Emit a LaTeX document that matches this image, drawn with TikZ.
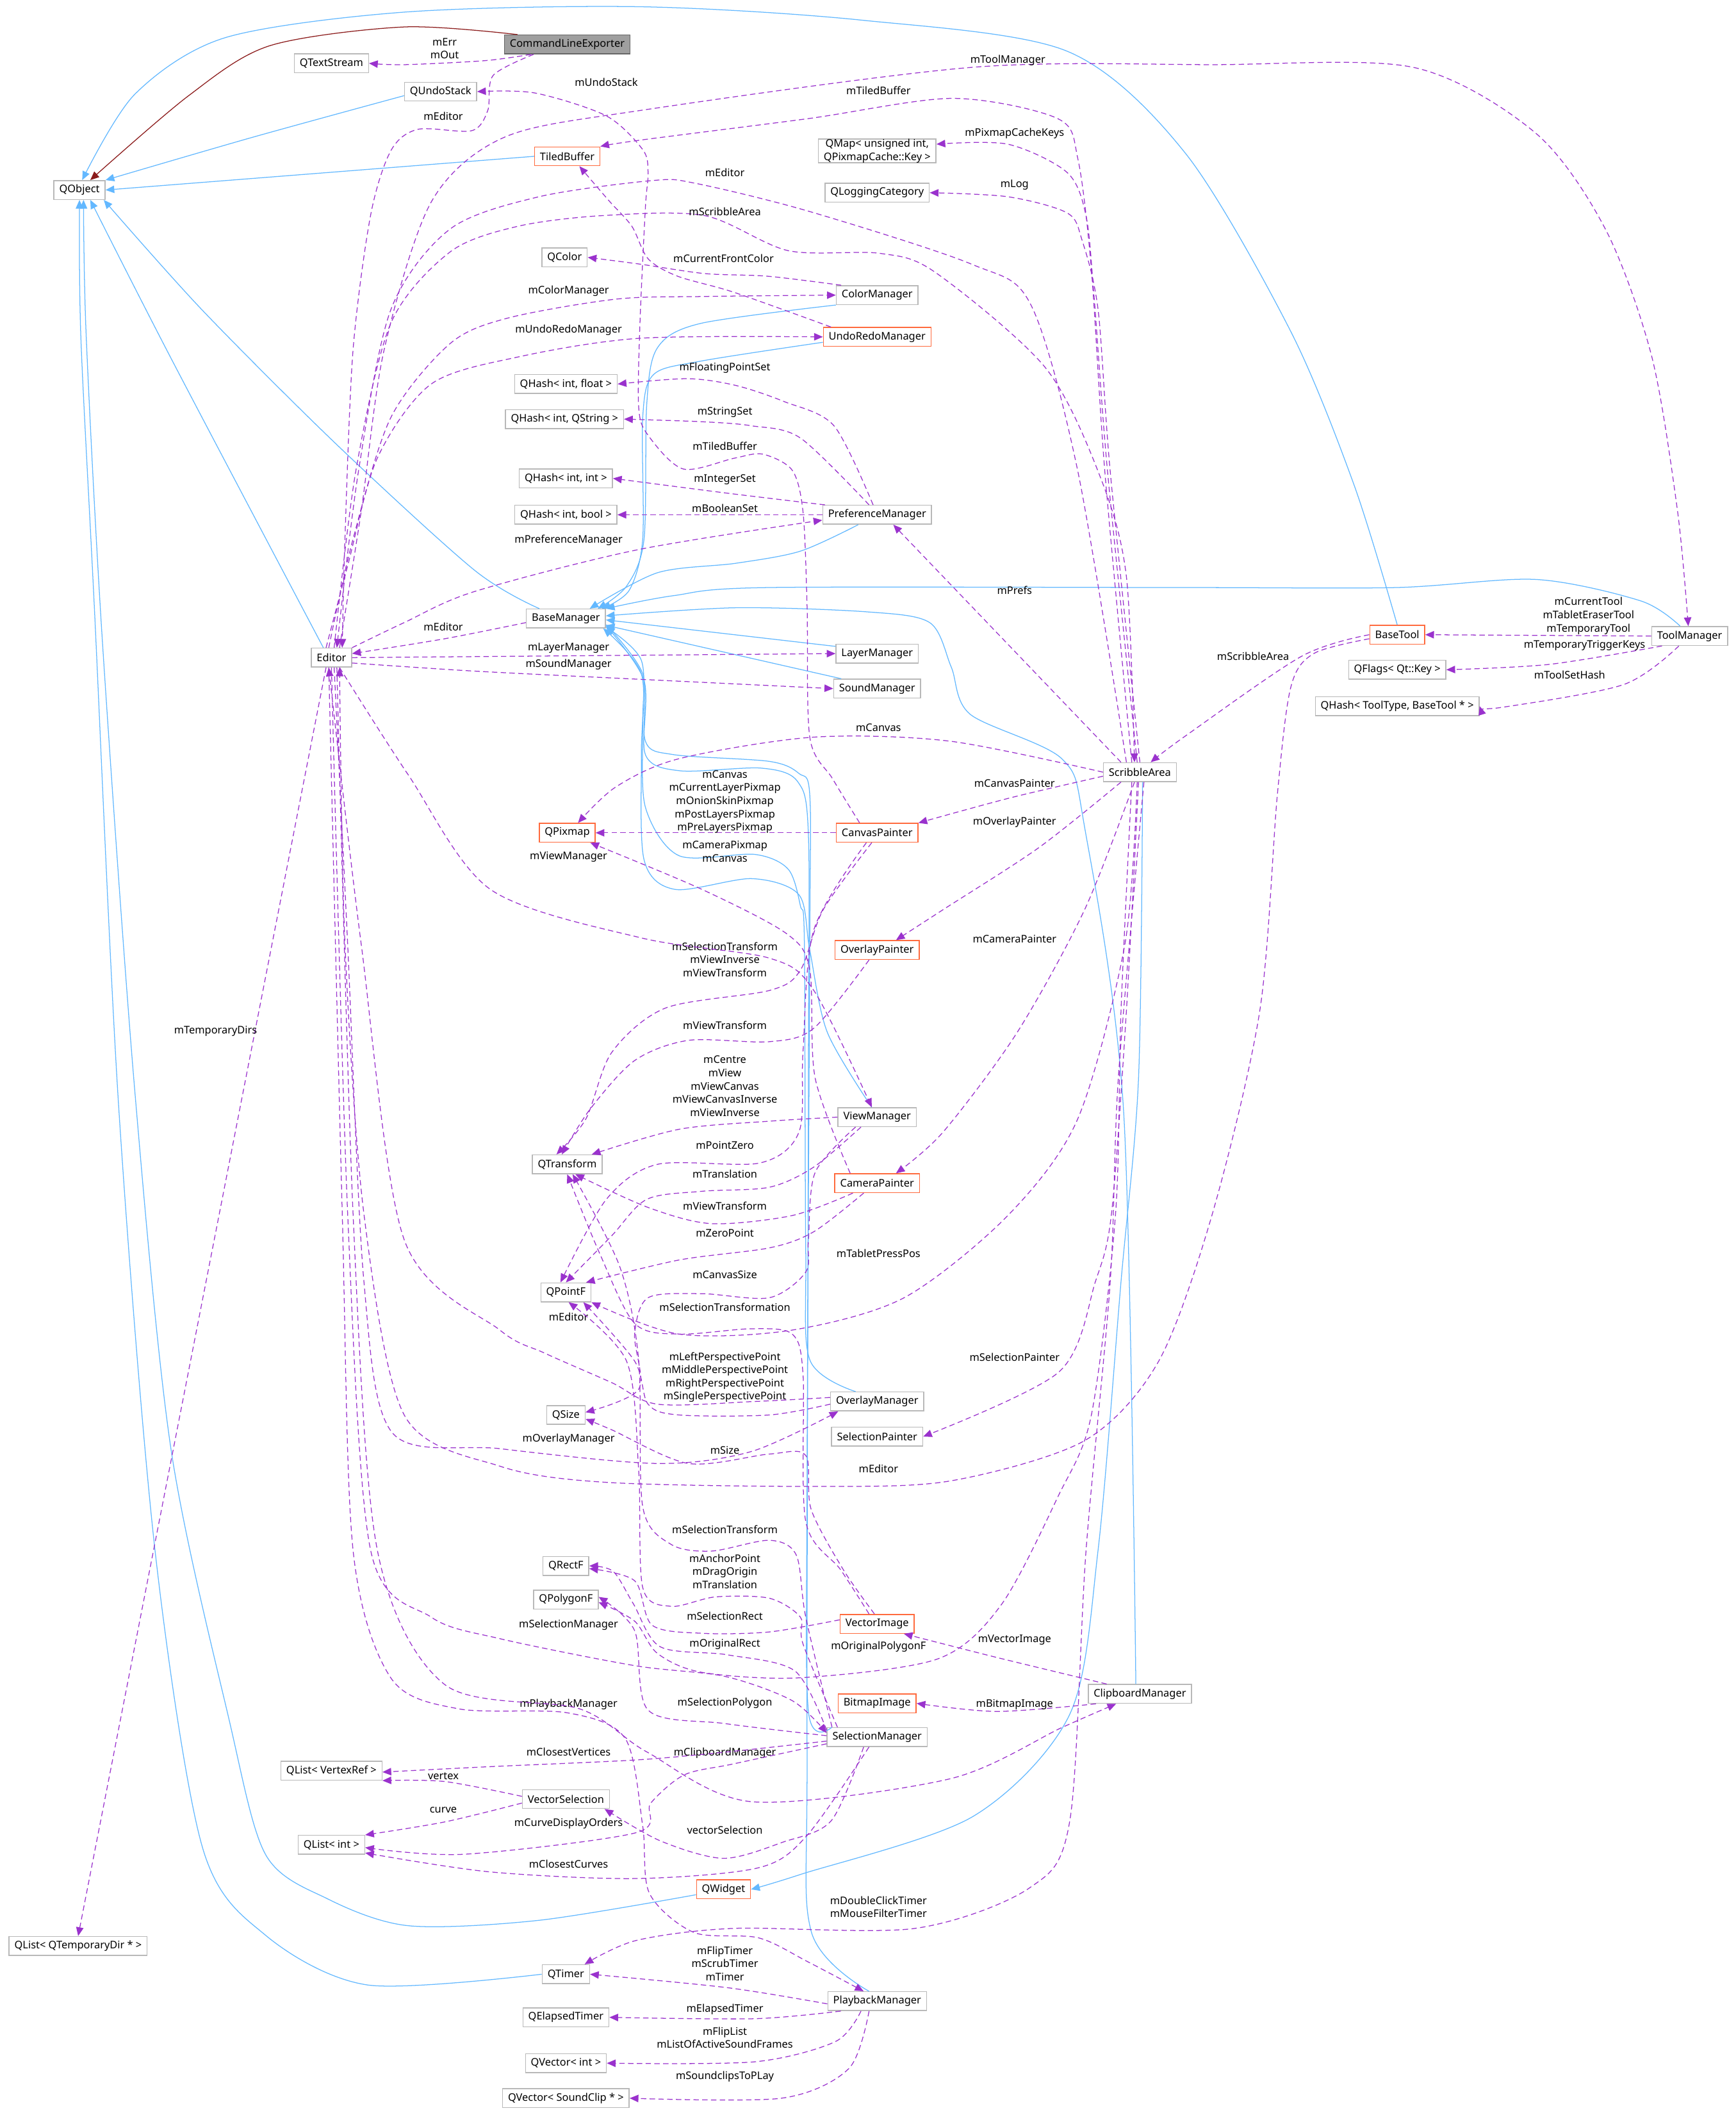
\documentclass[tikz,border=0pt]{standalone}
\usepackage{fontspec}
\setmainfont{Noto Sans}
\usetikzlibrary{arrows.meta}
\definecolor{inhblue}{HTML}{63B8FF}
\definecolor{usepurple}{HTML}{9A32CD}
\definecolor{privred}{HTML}{8B1A1A}
\definecolor{boxgray}{HTML}{B8B8B8}
\definecolor{boxorange}{HTML}{FF6A3D}
\tikzstyle{cls} = [rectangle,draw=boxgray,fill=white,line width=0.7pt,inner xsep=4pt,inner ysep=0pt,minimum height=14pt,align=center]
\tikzstyle{trunc} = [cls,draw=boxorange]
\tikzstyle{current} = [cls,fill=gray!75,draw=gray!120]
\tikzstyle{inh} = [draw=inhblue,line width=0.6pt,-{Triangle[length=6.5pt,width=5.5pt]}]
\tikzstyle{priv} = [draw=privred,line width=0.6pt,-{Triangle[length=6.5pt,width=5.5pt]}]
\tikzstyle{use} = [draw=usepurple,line width=0.6pt,dash pattern=on 4pt off 2.5pt,-{Triangle[length=6.5pt,width=5.5pt]}]
\tikzstyle{lbl} = [align=center,inner sep=0pt]
\tikzstyle{every node}=[font=\fontsize{7.8}{9.8}\selectfont]

\begin{document}
\begin{tikzpicture}[x=1pt,y=-1pt]
    \useasboundingbox (0,0) rectangle (1288,1568);
	\node[current] (CLE) at (421,33) {CommandLineExporter};
	\node[cls] (QTextStream) at (246,47) {QTextStream};
	\node[cls] (QUndoStack) at (327,68) {QUndoStack};
	\node[cls] (QObject) at (59,141) {QObject};
	\node[trunc] (TiledBuffer) at (421,116) {TiledBuffer};
	\node[cls] (QMap) at (651,112) {QMap< unsigned int,\\ QPixmapCache::Key >};
	\node[cls] (QLoggingCategory) at (651,143) {QLoggingCategory};
	\node[cls] (QColor) at (419,191) {QColor};
	\node[cls] (ColorManager) at (651,219) {ColorManager};
	\node[trunc] (UndoRedoManager) at (651,250) {UndoRedoManager};
	\node[cls] (QHashFloat) at (420,285) {QHash< int, float >};
	\node[cls] (QHashQString) at (419,311) {QHash< int, QString >};
	\node[cls] (QHashInt) at (420,355) {QHash< int, int >};
	\node[cls] (QHashBool) at (420,382) {QHash< int, bool >};
	\node[cls] (PreferenceManager) at (651,382) {PreferenceManager};
	\node[cls] (BaseManager) at (420,459) {BaseManager};
	\node[cls] (Editor) at (246,488) {Editor};
	\node[cls] (LayerManager) at (651,485) {LayerManager};
	\node[cls] (SoundManager) at (651,511) {SoundManager};
	\node[trunc] (BaseTool) at (1037,471) {BaseTool};
	\node[cls] (ToolManager) at (1254,472) {ToolManager};
	\node[cls] (QFlags) at (1037,497) {QFlags< Qt::Key >};
	\node[cls] (QHashTool) at (1037,524) {QHash< ToolType, BaseTool * >};
	\node[cls] (ScribbleArea) at (846,573) {ScribbleArea};
	\node[trunc] (QPixmap) at (421,618) {QPixmap};
	\node[trunc] (CanvasPainter) at (651,618) {CanvasPainter};
	\node[trunc] (OverlayPainter) at (651,705) {OverlayPainter};
	\node[cls] (ViewManager) at (651,829) {ViewManager};
	\node[cls] (QTransform) at (421,864) {QTransform};
	\node[trunc] (CameraPainter) at (651,878) {CameraPainter};
	\node[cls] (QPointF) at (420,959) {QPointF};
	\node[cls] (OverlayManager) at (651,1040) {OverlayManager};
	\node[cls] (QSize) at (420,1050) {QSize};
	\node[cls] (SelectionPainter) at (651,1066) {SelectionPainter};
	\node[cls] (QRectF) at (420,1162) {QRectF};
	\node[cls] (QPolygonF) at (420,1187) {QPolygonF};
	\node[trunc] (VectorImage) at (651,1205) {VectorImage};
	\node[cls] (ClipboardManager) at (846,1257) {ClipboardManager};
	\node[trunc] (BitmapImage) at (651,1264) {BitmapImage};
	\node[cls] (SelectionManager) at (651,1289) {SelectionManager};
	\node[cls] (QListVertexRef) at (246,1314) {QList< VertexRef >};
	\node[cls] (VectorSelection) at (420,1335) {VectorSelection};
	\node[cls] (QListInt) at (246,1369) {QList< int >};
	\node[trunc] (QWidget) at (537,1402) {QWidget};
	\node[cls] (QListTempDir) at (58,1444) {QList< QTemporaryDir * >};
	\node[cls] (QTimer) at (420,1465) {QTimer};
	\node[cls] (PlaybackManager) at (651,1485) {PlaybackManager};
	\node[cls] (QElapsedTimer) at (420,1497) {QElapsedTimer};
	\node[cls] (QVectorInt) at (420,1531) {QVector< int >};
	\node[cls] (QVectorSoundClip) at (420,1557) {QVector< SoundClip * >};

	\draw[priv] plot[smooth] coordinates {([xshift=10]CLE.north west) (300,20) (200,34) (140,71) ([xshift=8]QObject.north)};
	\draw[inh] plot[smooth] coordinates {(BaseTool.north) (1005,360) (958,246) (880,114) (792,38) (640,15) (475,5) (300,9) (167,28) (100,70) ([xshift=2]QObject.north)};
	\draw[inh] plot[smooth] coordinates {([yshift=-3]QUndoStack.west) (187,102) (QObject.north east)};
	\draw[inh] (TiledBuffer.west) -- (QObject.east);
	\draw[inh] plot[smooth] coordinates {([xshift=10]BaseManager.north west) (352,423) (250,330) (150,230) ([xshift=18]QObject.south)};
	\draw[inh] plot[smooth] coordinates {([xshift=-6]Editor.north) (127,266) ([xshift=8]QObject.south)};
	\draw[inh] plot[smooth] coordinates {([yshift=-4]QWidget.west) (400,1425) (303,1429) (243,1409) (197,1376) (170,1276) (127,1076) (100,809) (76,476) (64,250) ([xshift=3]QObject.south)};
	\draw[inh] plot[smooth] coordinates {(QTimer.west) (273,1473) (197,1436) (150,1370) (115,1150) (88,820) (70,450) (60,250) (QObject.south)};
	\draw[inh] plot[smooth] coordinates {(ColorManager.south west) (520,240) (488,258) (480,300) (478,400) (465,435) ([xshift=-6]BaseManager.north east)};
	\draw[inh] plot[smooth] coordinates {([yshift=-4]UndoRedoManager.west) (520,268) (485,278) (477,310) (477,400) (467,438) ([xshift=-3]BaseManager.north east)};
	\draw[inh] plot[smooth] coordinates {([xshift=-14]PreferenceManager.south) (594,409) (546,418) (488,425) ([xshift=-12]BaseManager.north east)};
	\draw[inh] plot[smooth] coordinates {([xshift=-7]ToolManager.north) (1218,446) (1140,430) (1036,436) (880,436) (570,436) (500,442) (BaseManager.north east)};
	\draw[inh] ([yshift=-2]LayerManager.north west) -- ([yshift=-1]BaseManager.east);
	\draw[inh] ([xshift=6]SoundManager.north west) -- ([yshift=-5]BaseManager.east);
	\draw[inh] plot[smooth] coordinates {([xshift=-3]ClipboardManager.north) (834,826) (805,614) (788,563) (720,530) (706,495) (690,462) (643,454) (546,451) ([yshift=2]BaseManager.east)};
	\draw[inh] plot[smooth] coordinates {([xshift=-4]ViewManager.north) (614,766) (601,705) (593,664) (558,652) (501,660) (478,638) (476,560) (476,500) ([xshift=-2]BaseManager.south east)};
	\draw[inh] plot[smooth] coordinates {([xshift=-16]OverlayManager.north) (601,1009) (598,927) (597,700) (594,672) (585,645) (560,634) (504,635) (479,599) (477,540) (476,490) ([yshift=1]BaseManager.south east)};
	\draw[inh] plot[smooth] coordinates {([xshift=4]SelectionManager.north west) (600,1270) (599,1100) (601,700) (601,590) (593,574) (571,565) (500,560) (479,550) (477,500) ([yshift=3]BaseManager.south east)};
	\draw[inh] plot[smooth] coordinates {([xshift=-6]PlaybackManager.north) (602,1433) (599,1300) (600,800) (600,620) (592,580) (565,570) (505,572) (479,560) (478,505) ([yshift=2]BaseManager.south east)};
	\draw[inh] plot[smooth] coordinates {([xshift=2]ScribbleArea.south) (845,800) (832,951) (815,1150) (794,1272) (722,1348) (594,1391) (QWidget.east)};

	\draw[use] plot[smooth] coordinates {([xshift=20]CLE.south west) (360,45) (300,48) (QTextStream.east)};
	\node[lbl] (lErrOut) at (330,36) {mErr\\mOut};
	\draw[use] plot[smooth] coordinates {([xshift=22]CLE.south west) (366,56) (362,82) (350,97) (310,96) (290,112) (275,160) (262,260) (256,400) ([xshift=8]Editor.north)};
	\node[lbl] (lEditorCLE) at (329,86) {mEditor};
	\draw[use] plot[smooth] coordinates {([xshift=6]Editor.north) (268,380) (285,260) (320,150) (374,102) (475,82) (721,50) (900,48) (1049,50) (1140,99) (1192,171) (1226,265) (1245,379) ([xshift=-1]ToolManager.north)};
	\node[lbl] (lToolManager) at (748,45) {mToolManager};
	\draw[use] plot[smooth] coordinates {([xshift=-6]ScribbleArea.north) (820,350) (810,200) (800,118) (785,88) (707,73) (600,88) (475,104) (TiledBuffer.north east)};
	\node[lbl] (lTiledBufferSA) at (652,67) {mTiledBuffer};
	\draw[use] plot[smooth] coordinates {([xshift=-2]ScribbleArea.north) (822,350) (812,220) (806,160) (792,128) (748,107) ([yshift=5]QMap.east)};
	\node[lbl] (lPixmapCacheKeys) at (753,99) {mPixmapCacheKeys};
	\draw[use] plot[smooth] coordinates {(ScribbleArea.north) (824,350) (815,230) (803,178) (792,158) (748,146) (QLoggingCategory.east)};
	\node[lbl] (lLog) at (753,137) {mLog};
	\draw[use] plot[smooth] coordinates {([xshift=-10]ScribbleArea.north) (800,350) (765,226) (721,196) (601,157) (516,136) (484,134) (400,146) (334,170) (290,230) (266,350) ([xshift=4]Editor.north)};
	\node[lbl] (lEditorSA) at (538,128) {mEditor};
	\draw[use] plot[smooth] coordinates {([xshift=2]Editor.north) (264,350) (290,240) (334,187) (384,168) (447,160) (523,160) (585,186) (653,188) (694,202) (776,273) (817,355) (836,428) ([xshift=-4]ScribbleArea.north)};
	\node[lbl] (lScribbleArea) at (538,157) {mScribbleArea};
	\draw[use] plot[smooth] coordinates {([xshift=4]ColorManager.north west) (570,205) (523,203) (475,196) (QColor.east)};
	\node[lbl] (lCurrentFrontColor) at (537,192) {mCurrentFrontColor};
	\draw[use] plot[smooth] coordinates {([xshift=-2]Editor.north) (262,400) (290,310) (334,255) (377,236) (457,222) (523,220) (ColorManager.west)};
	\node[lbl] (lColorManager) at (422,216) {mColorManager};
	\draw[use] plot[smooth] coordinates {([xshift=-4]Editor.north) (258,420) (280,340) (320,285) (384,265) (475,251) (UndoRedoManager.west)};
	\node[lbl] (lUndoRedoManager) at (422,245) {mUndoRedoManager};
	\draw[use] plot[smooth] coordinates {([xshift=6]UndoRedoManager.north west) (545,217) (503,205) (481,192) (469,168) (452,149) ([xshift=9]TiledBuffer.south)};
	\draw[use] plot[smooth] coordinates {([xshift=-13]CanvasPainter.north) (618,578) (601,547) (599,450) (596,380) (588,349) (566,337) (545,340) (507,348) (481,323) (474,302) (475,239) (479,154) (481,128) (477,111) (450,86) (397,69) (QUndoStack.east)};
	\node[lbl] (lUndoStack) at (450,61) {mUndoStack};
	\node[lbl] (lTiledBufferCP) at (538,331) {mTiledBuffer};
	\draw[use] plot[smooth] coordinates {([xshift=-3]PreferenceManager.north) (619,316) (582,298) (546,286) (510,281) (QHashFloat.east)};
	\node[lbl] (lFloatingPointSet) at (538,273) {mFloatingPointSet};
	\draw[use] plot[smooth] coordinates {([xshift=-6]PreferenceManager.north) (594,325) (558,316) (522,313) (QHashQString.east)};
	\node[lbl] (lStringSet) at (538,306) {mStringSet};
	\draw[use] plot[smooth] coordinates {([xshift=2]PreferenceManager.north west) (540,366) (QHashInt.east)};
	\node[lbl] (lIntegerSet) at (538,356) {mIntegerSet};
	\draw[use] (PreferenceManager.west) -- (QHashBool.east);
	\node[lbl] (lBooleanSet) at (538,377) {mBooleanSet};
	\draw[use] plot[smooth] coordinates {(Editor.north east) (300,462) (352,439) (473,408) ([yshift=-4]PreferenceManager.west)};
	\node[lbl] (lPreferenceManager) at (422,401) {mPreferenceManager};
	\draw[use] ([xshift=-14]ScribbleArea.north) -- ([xshift=12]PreferenceManager.south);
	\node[lbl] (lPrefs) at (753,438) {mPrefs};
	\draw[use] (ToolManager.west) -- (BaseTool.east);
	\node[lbl] (lCurrentTool) at (1179,457) {mCurrentTool\\mTabletEraserTool\\mTemporaryTool};
	\draw[use] plot[smooth] coordinates {([xshift=8]ToolManager.south west) (1150,493) (QFlags.east)};
	\node[lbl] (lTemporaryTriggerKeys) at (1176,479) {mTemporaryTriggerKeys};
	\draw[use] plot[smooth] coordinates {([xshift=-8]ToolManager.south) (1205,508) (1114,525) (QHashTool.east)};
	\node[lbl] (lToolSetHash) at (1165,501) {mToolSetHash};
	\draw[use] plot[smooth] coordinates {(BaseTool.west) (966,487) (880,546) ([xshift=8]ScribbleArea.north)};
	\node[lbl] (lScribbleAreaBT) at (930,487) {mScribbleArea};
	\draw[use] plot[smooth] coordinates {([yshift=-3]BaseTool.west) (975,485) (958,510) (948,590) (935,750) (900,900) (860,1010) (805,1069) (705,1099) (604,1103) (450,1100) (371,1088) (300,1050) (270,900) (256,700) ([xshift=6]Editor.south)};
	\node[lbl] (lEditorBT) at (652,1090) {mEditor};
	\draw[use] plot[smooth] coordinates {([yshift=-3]BaseManager.west) (330,474) ([yshift=3]Editor.east)};
	\node[lbl] (lEditorBM) at (329,465) {mEditor};
	\draw[use] (Editor.east) -- (LayerManager.west);
	\node[lbl] (lLayerManager) at (422,481) {mLayerManager};
	\draw[use] plot[smooth] coordinates {([yshift=-4]Editor.east) (352,498) (473,504) (SoundManager.west)};
	\node[lbl] (lSoundManager) at (422,493) {mSoundManager};

	\draw[use] plot[smooth] coordinates {(ScribbleArea.west) (705,550) (604,547) (504,563) (457,584) ([xshift=8]QPixmap.north)};
	\node[lbl] (lCanvas) at (652,540) {mCanvas};
	\draw[use] plot[smooth] coordinates {([yshift=-3]ScribbleArea.west) (750,592) (CanvasPainter.north east)};
	\node[lbl] (lCanvasPainter) at (753,581) {mCanvasPainter};
	\draw[use] plot[smooth] coordinates {([xshift=-14]ScribbleArea.south) (771,629) (700,675) ([xshift=14]OverlayPainter.north)};
	\node[lbl] (lOverlayPainter) at (753,610) {mOverlayPainter};
	\draw[use] plot[smooth] coordinates {([xshift=-4]ScribbleArea.south) (805,675) (755,766) (700,840) ([xshift=14]CameraPainter.north)};
	\node[lbl] (lCameraPainter) at (753,697) {mCameraPainter};
	\draw[use] plot[smooth] coordinates {([xshift=-2]ScribbleArea.south) (835,700) (800,830) (748,902) (671,963) (588,987) (504,990) (QPointF.south east)};
	\node[lbl] (lTabletPressPos) at (652,930) {mTabletPressPos};
	\draw[use] plot[smooth] coordinates {([xshift=-1]ScribbleArea.south) (836,750) (825,900) (813,951) (786,1018) (SelectionPainter.east)};
	\node[lbl] (lSelectionPainter) at (753,1007) {mSelectionPainter};
	\draw[use] plot[smooth] coordinates {([xshift=3]ScribbleArea.south) (830,800) (824,951) (806,1151) (794,1351) (764,1401) (679,1431) (544,1431) (472,1440) ([xshift=-4]QTimer.north east)};
	\node[lbl] (lTimers) at (652,1415) {mDoubleClickTimer\\mMouseFilterTimer};
	\draw[use] plot[smooth] coordinates {([xshift=-6]ScribbleArea.south) (832,750) (828,900) (810,1050) (785,1111) (743,1191) (696,1231) (594,1245) (521,1241) (488,1227) (471,1203) ([yshift=-2]QPolygonF.east)};
	\node[lbl] (lOriginalPolygonF) at (652,1222) {mOriginalPolygonF};

	\draw[use] (CanvasPainter.west) -- (QPixmap.east);
	\node[lbl] (lPixmaps) at (538,595) {mCanvas\\mCurrentLayerPixmap\\mOnionSkinPixmap\\mPostLayersPixmap\\mPreLayersPixmap};
	\draw[use] plot[smooth] coordinates {([xshift=-20]CameraPainter.north) (605,800) (601,720) (584,693) (521,660) ([xshift=-4]QPixmap.south east)};
	\node[lbl] (lCameraPixmap) at (538,632) {mCameraPixmap\\mCanvas};
	\draw[use] plot[smooth] coordinates {([xshift=-4]CanvasPainter.south) (611,675) (594,720) (571,735) (494,748) (454,781) (435,830) ([xshift=-8]QTransform.north)};
	\node[lbl] (lSelViewTransform) at (538,712) {mSelectionTransform\\mViewInverse\\mViewTransform};
	\draw[use] plot[smooth] coordinates {([xshift=-8]CanvasPainter.south) (604,690) (596,780) (593,840) (564,863) (488,864) (450,890) ([xshift=-4]QPointF.north)};
	\node[lbl] (lPointZero) at (538,850) {mPointZero};
	\draw[use] plot[smooth] coordinates {([xshift=-6]OverlayPainter.south) (604,763) (571,773) (511,772) (471,787) (438,823) ([xshift=-4]QTransform.north)};
	\node[lbl] (lViewTransformOP) at (538,761) {mViewTransform};
	\draw[use] plot[smooth] coordinates {(ViewManager.west) (571,832) (504,838) ([xshift=-8]QTransform.north east)};
	\node[lbl] (lViewMatrices) at (538,806) {mCentre\\mView\\mViewCanvas\\mViewCanvasInverse\\mViewInverse};
	\draw[use] plot[smooth] coordinates {([xshift=-12]ViewManager.south) (604,866) (571,881) (521,884) (480,890) (454,917) (QPointF.north)};
	\node[lbl] (lTranslation) at (538,871) {mTranslation};
	\draw[use] plot[smooth] coordinates {([xshift=-18]CameraPainter.south) (588,902) (528,908) (481,896) ([xshift=6]QTransform.south)};
	\node[lbl] (lViewTransformCP) at (538,895) {mViewTransform};
	\draw[use] plot[smooth] coordinates {([xshift=-10]CameraPainter.south) (604,914) (571,926) (504,935) ([xshift=-4]QPointF.north east)};
	\node[lbl] (lZeroPoint) at (538,915) {mZeroPoint};
	\draw[use] plot[smooth] coordinates {([xshift=-16]ViewManager.south) (605,870) (600,920) (598,944) (571,963) (521,960) (481,963) (471,990) (474,1031) ([yshift=2]QSize.east)};
	\node[lbl] (lCanvasSize) at (538,946) {mCanvasSize};
	\draw[use] plot[smooth] coordinates {([xshift=-6]VectorImage.north) (624,1165) (598,1129) (596,1020) (588,990) (558,986) (504,990) (471,982) (445,930) (QTransform.south)};
	\node[lbl] (lSelectionTransformation) at (538,970) {mSelectionTransformation};
	\draw[use] plot[smooth] coordinates {([xshift=-2]VectorImage.north) (626,1165) (602,1120) (598,1080) (571,1079) (511,1086) (454,1061) ([yshift=-3]QSize.east)};
	\node[lbl] (lSize) at (538,1076) {mSize};
	\draw[use] plot[smooth] coordinates {([yshift=-2]OverlayManager.west) (571,1050) (504,1050) (481,1042) (471,1010) ([xshift=-6]QPointF.south east)};
	\node[lbl] (lPerspective) at (538,1022) {mLeftPerspectivePoint\\mMiddlePerspectivePoint\\mRightPerspectivePoint\\mSinglePerspectivePoint};
	\draw[use] plot[smooth] coordinates {([xshift=2]Editor.south) (258,700) (270,950) (291,1063) (371,1075) (488,1086) (558,1077) ([xshift=6]OverlayManager.south west)};
	\node[lbl] (lOverlayManager) at (422,1068) {mOverlayManager};
	\draw[use] plot[smooth] coordinates {([yshift=3]OverlayManager.west) (560,1040) (488,1042) (454,1026) (404,1004) (371,987) (300,920) (268,700) ([xshift=-2]Editor.south)};
	\node[lbl] (lEditorQ) at (422,977) {mEditor};
	\draw[use] plot[smooth] coordinates {([xshift=6]Editor.south) (303,575) (364,660) (476,696) (571,711) (604,735) ([xshift=-4]ViewManager.north)};
	\node[lbl] (lViewManager) at (422,636) {mViewManager};
	\draw[use] ([xshift=-4]Editor.south) -- (QListTempDir.north);
	\node[lbl] (lTemporaryDirs) at (160,765) {mTemporaryDirs};

	\draw[use] plot[smooth] coordinates {(Editor.south) (258,900) (275,1150) (320,1200) (371,1216) (471,1236) (538,1244) (588,1262) ([yshift=3]SelectionManager.west)};
	\node[lbl] (lSelectionManager) at (422,1206) {mSelectionManager};
	\draw[use] plot[smooth] coordinates {([xshift=-2]Editor.south) (254,900) (262,1150) (290,1245) (340,1268) (421,1271) (464,1290) (477,1355) (482,1405) (515,1434) (563,1438) (600,1456) ([xshift=-10]PlaybackManager.north)};
	\node[lbl] (lPlaybackManager) at (422,1265) {mPlaybackManager};
	\draw[use] plot[smooth] coordinates {([xshift=4]Editor.south) (262,900) (280,1150) (330,1250) (430,1268) (480,1300) (558,1337) (705,1320) (788,1282) ([xshift=21]ClipboardManager.south west)};
	\node[lbl] (lClipboardManager) at (538,1301) {mClipboardManager};
	\draw[use] plot[smooth] coordinates {([yshift=3]VectorImage.west) (571,1211) (521,1212) (484,1206) (471,1173) ([yshift=-2]QRectF.east)};
	\node[lbl] (lSelectionRect) at (538,1199) {mSelectionRect};
	\draw[use] plot[smooth] coordinates {([yshift=5]SelectionManager.west) (590,1240) (540,1228) (490,1222) (470,1190) (455,1166) (QRectF.east)};
	\node[lbl] (lOriginalRect) at (538,1220) {mOriginalRect};
	\draw[use] plot[smooth] coordinates {([yshift=1]SelectionManager.west) (538,1279) (481,1269) (471,1210) ([yshift=2]QPolygonF.east)};
	\node[lbl] (lSelectionPolygon) at (538,1264) {mSelectionPolygon};
	\draw[use] plot[smooth] coordinates {([xshift=4]SelectionManager.north west) (598,1200) (591,1154) (571,1143) (528,1151) (498,1146) (477,1118) (474,1009) (460,940) ([xshift=4]QTransform.south)};
	\node[lbl] (lSelectionTransform) at (538,1135) {mSelectionTransform};
	\draw[use] plot[smooth] coordinates {([xshift=8]SelectionManager.north west) (596,1220) (594,1200) (571,1186) (531,1185) (498,1192) (477,1178) (474,1091) (465,1010) ([xshift=2]QPointF.south)};
	\node[lbl] (lAnchor) at (538,1166) {mAnchorPoint\\mDragOrigin\\mTranslation};
	\draw[use] plot[smooth] coordinates {([yshift=-3]SelectionManager.west) (540,1300) (472,1306) (363,1311) ([yshift=-1]QListVertexRef.east)};
	\node[lbl] (lClosestVertices) at (422,1300) {mClosestVertices};
	\draw[use] plot[smooth] coordinates {([yshift=2]VectorSelection.west) (330,1322) (QListVertexRef.south east)};
	\node[lbl] (lVertex) at (329,1318) {vertex};
	\draw[use] plot[smooth] coordinates {([yshift=-3]VectorSelection.west) (330,1352) (QListInt.north east)};
	\node[lbl] (lCurve) at (329,1343) {curve};
	\draw[use] plot[smooth] coordinates {([yshift=-5]SelectionManager.west) (544,1309) (508,1317) (483,1338) (472,1360) (344,1376) ([yshift=-2]QListInt.east)};
	\node[lbl] (lCurveDisplayOrders) at (422,1353) {mCurveDisplayOrders};
	\draw[use] plot[smooth] coordinates {([xshift=-10]SelectionManager.south) (617,1351) (581,1367) (537,1379) (490,1366) ([xshift=-4]VectorSelection.south east)};
	\node[lbl] (lVectorSelection) at (538,1358) {vectorSelection};
	\draw[use] plot[smooth] coordinates {([xshift=-6]SelectionManager.south) (599,1362) (563,1386) (472,1394) (363,1389) ([yshift=-6]QListInt.east)};
	\node[lbl] (lClosestCurves) at (422,1383) {mClosestCurves};
	\draw[use] plot[smooth] coordinates {([xshift=14]ClipboardManager.north west) (740,1230) ([xshift=-8]VectorImage.south east)};
	\node[lbl] (lVectorImage) at (753,1217) {mVectorImage};
	\draw[use] plot[smooth] coordinates {([xshift=6]ClipboardManager.south west) (740,1270) (BitmapImage.east)};
	\node[lbl] (lBitmapImage) at (753,1265) {mBitmapImage};

	\draw[use] plot[smooth] coordinates {([yshift=-2]PlaybackManager.west) (540,1475) (QTimer.east)};
	\node[lbl] (lTimersPM) at (538,1457) {mFlipTimer\\mScrubTimer\\mTimer};
	\draw[use] plot[smooth] coordinates {([xshift=10]PlaybackManager.south west) (560,1498) (QElapsedTimer.east)};
	\node[lbl] (lElapsedTimer) at (538,1491) {mElapsedTimer};
	\draw[use] plot[smooth] coordinates {([xshift=-12]PlaybackManager.south) (620,1515) (560,1530) (QVectorInt.east)};
	\node[lbl] (lFlipList) at (538,1512) {mFlipList\\mListOfActiveSoundFrames};
	\draw[use] plot[smooth] coordinates {([xshift=-6]PlaybackManager.south) (630,1535) (580,1557) (QVectorSoundClip.east)};
	\node[lbl] (lSoundclips) at (538,1541) {mSoundclipsToPLay};
\end{tikzpicture}
\end{document}
